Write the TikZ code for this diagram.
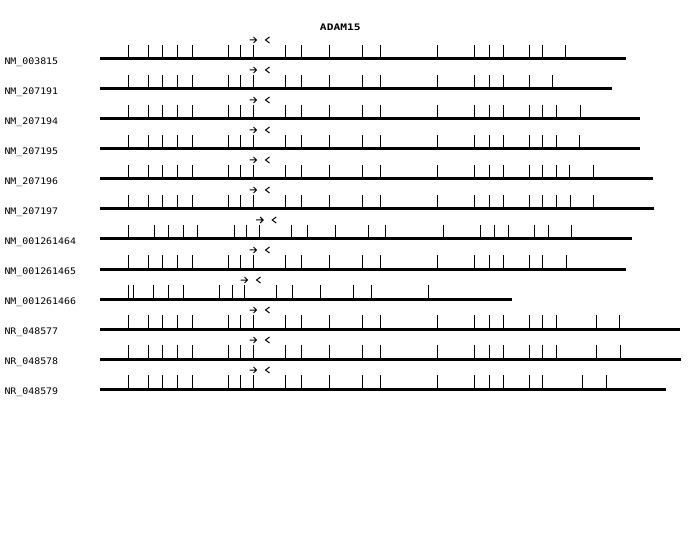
\documentclass[tikz,border=0pt]{standalone}
\usepackage{fontspec}
\newfontfamily\genefont[FakeStretch=1.1]{DejaVu Sans Mono}
\newfontfamily\titlefont[FakeStretch=1.25]{DejaVu Sans Mono}

% #1 row number, #2 label, #3 end of line, #4 primer site, #5 exon ticks
\newcommand{\genemodel}[5]{
	\pgfmathsetmacro\rowy{59+30*#1}
	\node [anchor=base west, inner sep=0, font=\genefont\fontsize{9bp}{9bp}\selectfont] (row#1) at (4,\rowy+5.5) {#2};
	\draw [line width=3bp] (100,\rowy) -- (#3,\rowy);
	\foreach \x in {#5}
		\draw (\x,\rowy) -- (\x,\rowy-14);
	\draw (#4-3.5,\rowy-19) -- (#4+3.5,\rowy-19) (#4+0.5,\rowy-22) -- (#4+3.5,\rowy-19) -- (#4+0.5,\rowy-16);
	\draw (#4+16.5,\rowy-22) -- (#4+12.5,\rowy-19) -- (#4+16.5,\rowy-16);
}

\begin{document}
\begin{tikzpicture}[x=1bp, y=-1bp, line width=1bp]
	\useasboundingbox (0,0) rectangle (700,540);
	\node [anchor=base, inner sep=0, font=\titlefont\bfseries\fontsize{9bp}{9bp}\selectfont] (title) at (340.3,31) {ADAM15};
	\genemodel{0}{NM\_003815}{625.7}{253}{128.7,148.7,162.3,177.3,192.3,228.7,240.7,253,285.3,301.3,329.3,362.7,380.7,437.7,474.7,489.3,503.7,529.7,542.3,565.3}
	\genemodel{1}{NM\_207191}{612.3}{253}{128.7,148.7,162.3,177.3,192.3,228.7,240.7,253,285.3,301.3,329.3,362.7,380.7,437.7,474.7,489.3,503.7,529.7,552.3}
	\genemodel{2}{NM\_207194}{639.7}{253}{128.7,148.7,162.3,177.3,192.3,228.7,240.7,253,285.3,301.3,329.3,362.7,380.7,437.7,474.7,489.3,503.7,529.7,542.3,556.3,580.7}
	\genemodel{3}{NM\_207195}{639.7}{253}{128.7,148.7,162.3,177.3,192.3,228.7,240.7,253,285.3,301.3,329.3,362.7,380.7,437.7,474.7,489.3,503.7,529.7,542.3,556.3,579.3}
	\genemodel{4}{NM\_207196}{653}{253}{128.7,148.7,162.3,177.3,192.3,228.7,240.7,253,285.3,301.3,329.3,362.7,380.7,437.7,474.7,489.3,503.7,529.7,542.3,556.3,569.7,593}
	\genemodel{5}{NM\_207197}{653.7}{253}{128.7,148.7,162.3,177.3,192.3,228.7,240.7,253,285.3,301.3,329.3,362.7,380.7,437.7,474.7,489.3,503.7,529.7,542.3,556.3,570.7,593}
	\genemodel{6}{NM\_001261464}{631.7}{259.7}{128.7,154.3,168.3,183.3,197.3,234.3,246.3,259.7,291.3,307.3,335.3,368.3,385.5,443.3,480.3,494.3,508.3,534.3,548.3,571.3}
	\genemodel{7}{NM\_001261465}{625.7}{253}{128.7,148.7,162.3,177.3,192.3,228.7,240.7,253,285.3,301.3,329.3,362.7,380.7,437.7,474.7,489.3,503.7,529.7,542.3,566}
	\genemodel{8}{NM\_001261466}{511.7}{244}{128.7,133.3,153.3,168.3,183.3,219.7,232,244,276.3,292.3,320.3,353.7,371.7,428.7}
	\genemodel{9}{NR\_048577}{680}{253}{128.7,148.7,162.3,177.3,192.3,228.7,240.7,253,285.3,301.3,329.3,362.7,380.7,437.7,474.7,489.3,503.7,529.7,542.3,556.3,596.7,619.3}
	\genemodel{10}{NR\_048578}{681}{253}{128.7,148.7,162.3,177.3,192.3,228.7,240.7,253,285.3,301.3,329.3,362.7,380.7,437.7,474.7,489.3,503.7,529.7,542.3,556,596.7,620.3}
	\genemodel{11}{NR\_048579}{666}{253}{128.7,148.7,162.3,177.3,192.3,228.7,240.7,253,285.3,301.3,329.3,362.7,380.7,437.7,474.7,489.3,503.7,529.7,542.3,582.3,606.3}
\end{tikzpicture}
\end{document}
